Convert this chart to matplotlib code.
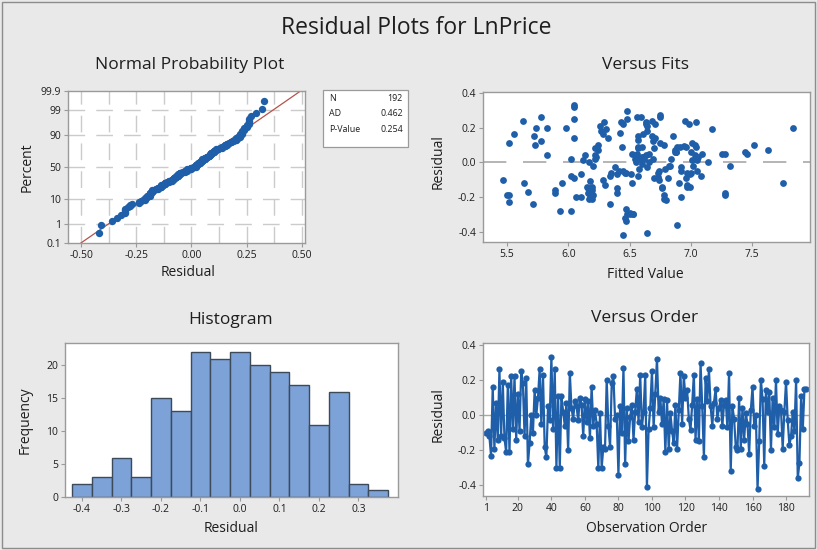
import numpy as np
import matplotlib
matplotlib.use("Agg")
import matplotlib.pyplot as plt
from matplotlib.patches import Rectangle
from statistics import NormalDist

# residuals in observation order
residuals = [
    -0.10, -0.09, -0.12, -0.23, 0.16, -0.19, 0.07, -0.14, 0.26, -0.12, 0.19, -0.13,
    -0.21, 0.17, -0.21, 0.22, -0.08, 0.22, -0.14, 0.12, -0.09, 0.25, 0.18, -0.12,
    0.21, -0.28, -0.16, 0.00, -0.10, 0.14, 0.00, 0.10, 0.26, -0.05, 0.23, -0.18,
    -0.24, 0.05, -0.03, 0.33, -0.08, 0.26, -0.30, 0.11, -0.30, 0.11, 0.02, -0.06,
    0.07, -0.20, 0.24, 0.04, -0.02, 0.08, 0.05, -0.03, 0.10, 0.06, -0.12, 0.09,
    -0.04, 0.08, -0.13, 0.16, -0.06, 0.03, -0.05, -0.30, 0.01, -0.30, -0.18, -0.19,
    0.20, -0.06, -0.18, 0.18, 0.22, -0.02, 0.00, -0.34, 0.05, -0.10, 0.27, -0.28,
    0.04, -0.15, -0.01, 0.06, -0.14, 0.02, 0.15, -0.04, 0.23, -0.07, 0.02, 0.23,
    -0.41, -0.08, 0.04, 0.25, -0.07, 0.12, 0.32, 0.02, 0.10, -0.05, 0.09, -0.21,
    0.085, -0.19, 0.01, -0.09, -0.16, 0.06, -0.19, 0.03, 0.24, -0.05, 0.22, 0.10,
    0.14, -0.02, -0.085, 0.06, 0.23, -0.14, 0.09, -0.15, 0.295, 0.05, -0.24, 0.21,
    0.08, 0.26, 0.05, -0.06, 0.07, 0.15, -0.02, 0.04, 0.085, -0.06, 0.06, 0.085,
    -0.07, 0.24, -0.32, 0.05, -0.02, -0.18, -0.20, 0.095, -0.19, 0.04, -0.14, 0.01,
    -0.05, -0.22, 0.03, 0.16, -0.06, 0.00, -0.42, -0.15, 0.20, 0.09, -0.29, 0.14,
    0.02, 0.13, -0.20, 0.10, -0.07, 0.20, -0.11, 0.05, 0.03, -0.19, 0.02, 0.19,
    -0.03, -0.17, -0.12, 0.02, -0.09, 0.20, -0.36, -0.27, 0.11, -0.08, 0.15, 0.15,
]

# fitted values, same order
fitted = [
    5.47, 6.05, 6.52, 5.52, 6.61, 5.50, 6.87, 6.15, 6.56, 5.64, 6.31, 6.97,
    6.19, 6.42, 6.78, 6.63, 6.02, 6.45, 6.99, 5.78, 6.70, 6.48, 6.27, 5.95,
    6.26, 5.93, 5.89, 6.55, 6.74, 6.71, 6.17, 5.73, 6.59, 7.05, 6.43, 6.16,
    5.71, 6.66, 6.92, 6.05, 6.57, 5.78, 6.53, 6.75, 6.50, 7.01, 6.84, 6.35,
    6.24, 6.06, 6.68, 7.03, 6.20, 6.57, 7.09, 6.64, 6.24, 6.87, 6.90, 6.96,
    6.58, 6.22, 6.30, 5.56, 6.73, 6.61, 6.45, 6.48, 6.12, 6.53, 5.89, 6.18,
    5.74, 6.46, 6.40, 6.64, 6.98, 6.82, 7.14, 6.47, 7.28, 6.28, 6.75, 6.02,
    6.14, 6.40, 6.60, 7.00, 6.19, 6.22, 6.57, 6.79, 7.04, 6.99, 6.54, 6.63,
    6.64, 6.34, 6.22, 6.05, 6.10, 6.69, 6.05, 6.62, 6.78, 6.41, 6.60, 6.17,
    6.57, 6.20, 7.01, 6.81, 6.19, 7.44, 6.78, 6.60, 5.63, 6.74, 6.71, 7.03,
    6.32, 6.83, 6.73, 6.88, 6.29, 6.76, 6.44, 6.16, 6.48, 6.56, 6.34, 6.64,
    6.70, 6.75, 7.46, 6.97, 7.63, 6.68, 7.32, 5.83, 7.04, 6.47, 6.88, 6.91,
    6.51, 6.95, 6.46, 7.25, 7.02, 7.28, 6.10, 6.94, 5.52, 6.63, 6.97, 7.05,
    6.92, 6.80, 7.06, 6.28, 7.00, 6.66, 6.45, 6.76, 5.83, 6.89, 6.50, 6.05,
    6.69, 6.57, 6.92, 7.51, 6.40, 7.83, 6.18, 6.52, 6.23, 7.28, 6.02, 7.17,
    6.38, 5.67, 7.75, 6.58, 6.96, 5.98, 6.89, 6.47, 5.52, 7.08, 6.85, 5.72,
]

# histogram bins (centres) and counts
hist_centers = [-0.40, -0.35, -0.30, -0.25, -0.20, -0.15, -0.10, -0.05,
                0.00, 0.05, 0.10, 0.15, 0.20, 0.25, 0.30, 0.35]
hist_counts = [2, 3, 6, 3, 15, 13, 22, 21, 22, 20, 19, 17, 11, 16, 2, 1]

stats_labels = ["N", "AD", "P-Value"]
stats_values = ["192", "0.462", "0.254"]

pct_ticks = [0.1, 1, 10, 50, 90, 99, 99.9]
pct_labels = ["0.1", "1", "10", "50", "90", "99", "99.9"]

BLUE = "#1f5ea8"
BG = "#e9e9e9"
SPINE = "#9a9a9a"
TXT = "#1e1e1e"
W, H = 817, 550

plt.rcParams["font.family"] = ["Open Sans", "DejaVu Sans"]

fig = plt.figure(figsize=(W / 100, H / 100), dpi=100)
fig.patch.set_facecolor(BG)
fig.patches.append(Rectangle((0.002, 0.003), 0.996, 0.994, transform=fig.transFigure,
                             fill=False, edgecolor="#8c8c8c", lw=1.0))


def px_axes(l, t, r, b):
    ax = fig.add_axes([l / W, 1 - b / H, (r - l) / W, (b - t) / H])
    for s in ax.spines.values():
        s.set_color(SPINE)
        s.set_linewidth(1.0)
    ax.tick_params(labelsize=7.5, length=3, width=0.8, color=SPINE, pad=2, labelcolor=TXT)
    return ax


def ftext(x, y, s, **kw):
    fig.text(x / W, 1 - y / H, s, ha="center", va="center", color=TXT, **kw)


ftext(416, 28, "Residual Plots for LnPrice", fontsize=16.5)

res = np.array(residuals)
fit = np.array(fitted)
n = len(res)
nd = NormalDist()

# ---- Normal probability plot
ax1 = px_axes(68, 91, 305, 243)
srt = np.sort(res)
ranks = (np.arange(1, n + 1) - 0.3) / (n + 0.4)
z = np.array([nd.inv_cdf(p) for p in ranks])
zlo, zhi = nd.inv_cdf(0.001), nd.inv_cdf(0.999)
mu, sd = res.mean(), res.std(ddof=1)
ax1.set_xlim(-0.56, 0.515)
ax1.set_ylim(zlo, zhi)
for gx in np.arange(-0.5, 0.51, 0.125):
    ax1.axvline(gx, color="#cbcbcb", lw=1.0, ls=(0, (12, 8)), zorder=0)
for p in [1, 10, 50, 90, 99]:
    ax1.axhline(nd.inv_cdf(p / 100), color="#cbcbcb", lw=1.0, ls=(0, (12, 8)), zorder=0)
ax1.plot([mu + sd * zlo, mu + sd * zhi], [zlo, zhi], color="#b5534a", lw=0.9, zorder=1)
ax1.scatter(srt, z, s=28, color=BLUE, zorder=2, linewidths=0)
ax1.set_yticks([nd.inv_cdf(p / 100) for p in pct_ticks])
ax1.set_yticklabels(pct_labels)
ax1.set_xticks([-0.5, -0.25, 0, 0.25, 0.5])
ax1.set_xticklabels(["-0.50", "-0.25", "0.00", "0.25", "0.50"])
ftext(190, 65, "Normal Probability Plot", fontsize=12.5)
ftext(188, 272, "Residual", fontsize=10)
ftext(27, 167, "Percent", fontsize=10, rotation=90)

# stats box
fig.patches.append(Rectangle((323 / W, 1 - 147 / H), 85 / W, 57 / H, transform=fig.transFigure,
                             facecolor="white", edgecolor=SPINE, lw=0.9))
for i, (lab, val) in enumerate(zip(stats_labels, stats_values)):
    yy = 1 - (99 + i * 15) / H
    fig.text(329 / W, yy, lab, fontsize=6.4, va="center", ha="left", color=TXT)
    fig.text(403 / W, yy, val, fontsize=6.4, va="center", ha="right", color=TXT)

# ---- Versus fits
ax2 = px_axes(483, 92, 810, 242)
ax2.axhline(0, color="#a8a8a8", lw=1.2, ls=(0, (14, 10)), zorder=0)
ax2.scatter(fit, res, s=24, color=BLUE, linewidths=0, zorder=2)
ax2.set_xlim(5.305, 7.97)
ax2.set_ylim(-0.46, 0.405)
ax2.set_xticks([5.5, 6.0, 6.5, 7.0, 7.5])
ax2.set_yticks([-0.4, -0.2, 0.0, 0.2, 0.4])
ax2.set_yticklabels(["-0.4", "-0.2", "0.0", "0.2", "0.4"])
ftext(645, 65, "Versus Fits", fontsize=12.5)
ftext(645, 275, "Fitted Value", fontsize=10)
ftext(438, 162, "Residual", fontsize=10, rotation=90)

# ---- Histogram
ax3 = px_axes(65, 343, 398, 497)
ax3.bar(hist_centers, hist_counts, width=0.05, color="#7ca2d7", edgecolor="#3d4a5a", lw=1.0)
ax3.set_xlim(-0.443, 0.40)
ax3.set_ylim(0, 23.4)
ax3.set_xticks([-0.4, -0.3, -0.2, -0.1, 0.0, 0.1, 0.2, 0.3])
ax3.set_xticklabels(["-0.4", "-0.3", "-0.2", "-0.1", "0.0", "0.1", "0.2", "0.3"])
ax3.set_yticks([0, 5, 10, 15, 20])
ftext(231, 320, "Histogram", fontsize=12.5)
ftext(231, 528, "Residual", fontsize=10)
ftext(25, 420, "Frequency", fontsize=10, rotation=90)

# ---- Versus order
ax4 = px_axes(483, 343, 809, 496)
obs = np.arange(1, n + 1)
ax4.axhline(0, color="#a8a8a8", lw=1.0, zorder=0)
ax4.plot(obs, res, color=BLUE, lw=1.6, marker="o", ms=4.5, mew=0, zorder=2)
ax4.set_xlim(-0.8, 193.7)
ax4.set_ylim(-0.46, 0.41)
ax4.set_xticks([1, 20, 40, 60, 80, 100, 120, 140, 160, 180])
ax4.set_yticks([-0.4, -0.2, 0.0, 0.2, 0.4])
ax4.set_yticklabels(["-0.4", "-0.2", "0.0", "0.2", "0.4"])
ftext(645, 318, "Versus Order", fontsize=12.5)
ftext(647, 528, "Observation Order", fontsize=10)
ftext(438, 415, "Residual", fontsize=10, rotation=90)

fig.savefig("out.png", dpi=100, facecolor=BG)
